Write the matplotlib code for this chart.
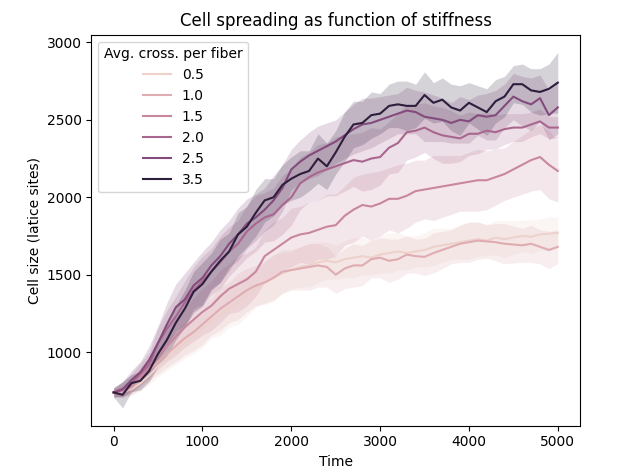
import numpy as np
import matplotlib
matplotlib.use("Agg")
import matplotlib.pyplot as plt
import seaborn as sns

# time axis (every 100 steps)
time = list(range(0, 5001, 100))

levels = [0.5, 1.0, 1.5, 2.0, 2.5, 3.5]

# mean cell size per stiffness level
size_05 = [740, 745, 760, 800, 850, 910, 960, 1010, 1060, 1100, 1150, 1200, 1240, 1280, 1320, 1360, 1410,
           1450, 1480, 1510, 1530, 1550, 1560, 1580, 1590, 1580, 1600, 1610, 1620, 1610, 1630, 1640, 1650,
           1640, 1650, 1660, 1680, 1690, 1700, 1710, 1720, 1730, 1720, 1740, 1730, 1740, 1750, 1745, 1760,
           1765, 1770]
size_10 = [740, 735, 770, 820, 880, 940, 990, 1040, 1090, 1130, 1180, 1230, 1280, 1320, 1360, 1400, 1430,
           1450, 1480, 1520, 1530, 1540, 1550, 1560, 1550, 1500, 1540, 1560, 1560, 1600, 1610, 1590, 1600,
           1630, 1620, 1615, 1640, 1660, 1680, 1700, 1710, 1720, 1715, 1710, 1700, 1695, 1690, 1700, 1680,
           1660, 1680]
size_15 = [740, 750, 780, 840, 900, 980, 1040, 1100, 1160, 1210, 1260, 1300, 1360, 1410, 1440, 1470, 1520,
           1620, 1660, 1700, 1740, 1760, 1770, 1790, 1810, 1820, 1880, 1920, 1950, 1940, 1960, 1990, 1990,
           2010, 2040, 2050, 2060, 2070, 2080, 2090, 2100, 2110, 2110, 2130, 2150, 2180, 2210, 2240, 2260,
           2210, 2170]
size_20 = [740, 760, 800, 860, 920, 1060, 1150, 1230, 1320, 1400, 1460, 1520, 1580, 1650, 1700, 1780, 1830,
           1870, 1890, 1950, 2000, 2090, 2130, 2160, 2180, 2200, 2220, 2240, 2230, 2250, 2260, 2320, 2350,
           2420, 2430, 2450, 2420, 2400, 2390, 2380, 2410, 2410, 2430, 2420, 2440, 2450, 2450, 2470, 2490,
           2450, 2450]
size_25 = [740, 760, 820, 870, 950, 1060, 1180, 1290, 1340, 1430, 1480, 1560, 1620, 1700, 1760, 1830, 1870,
           1920, 1980, 2060, 2180, 2230, 2270, 2300, 2330, 2360, 2400, 2440, 2470, 2480, 2500, 2520, 2540,
           2560, 2550, 2520, 2510, 2500, 2480, 2500, 2490, 2530, 2520, 2530, 2590, 2650, 2620, 2600, 2640,
           2530, 2580]
size_35 = [740, 725, 800, 815, 880, 990, 1080, 1190, 1280, 1390, 1440, 1520, 1590, 1650, 1760, 1810, 1900,
           1980, 2000, 2080, 2120, 2150, 2170, 2250, 2200, 2290, 2390, 2470, 2480, 2530, 2540, 2590, 2600,
           2590, 2590, 2660, 2610, 2630, 2580, 2560, 2610, 2580, 2550, 2620, 2650, 2730, 2730, 2690, 2680,
           2700, 2740]

# half width of the confidence band
band_05 = [20, 30, 40, 50, 60, 70, 80, 90, 100, 110, 120, 110, 130, 120, 140, 130, 120, 130, 140, 130, 120,
           130, 140, 130, 120, 110, 120, 130, 120, 110, 120, 130, 120, 110, 100, 110, 120, 110, 100, 110, 120,
           110, 100, 110, 120, 110, 100, 110, 100, 110, 100]
band_10 = [20, 30, 45, 55, 65, 80, 90, 100, 110, 120, 130, 120, 140, 130, 150, 140, 130, 140, 150, 140, 130,
           140, 150, 140, 130, 120, 130, 140, 130, 120, 130, 140, 130, 120, 110, 120, 130, 120, 110, 120, 130,
           120, 110, 120, 130, 120, 110, 120, 110, 120, 110]
band_15 = [25, 35, 45, 60, 70, 90, 100, 120, 130, 140, 150, 160, 170, 160, 180, 170, 160, 170, 180, 170, 190,
           180, 200, 190, 210, 200, 190, 210, 200, 220, 210, 200, 220, 210, 200, 190, 210, 200, 190, 180, 190,
           200, 190, 180, 170, 180, 190, 200, 210, 220, 200]
band_20 = [30, 45, 60, 70, 80, 100, 120, 130, 140, 150, 160, 150, 170, 160, 150, 170, 180, 160, 170, 190, 180,
           170, 160, 180, 170, 190, 180, 170, 190, 200, 180, 170, 190, 180, 170, 160, 170, 180, 170, 150, 140,
           130, 120, 110, 100, 90, 90, 80, 80, 70, 70]
band_25 = [30, 50, 60, 70, 90, 110, 140, 150, 170, 150, 170, 150, 170, 150, 170, 160, 150, 140, 160, 150, 130,
           140, 150, 160, 150, 140, 150, 160, 170, 160, 150, 140, 130, 150, 140, 160, 150, 140, 130, 150, 140,
           130, 150, 160, 140, 150, 160, 170, 150, 160, 170]
band_35 = [30, 85, 55, 60, 70, 80, 100, 110, 120, 130, 140, 120, 140, 120, 140, 130, 150, 140, 120, 130, 140,
           150, 130, 160, 150, 140, 160, 150, 140, 150, 130, 140, 150, 160, 140, 150, 130, 140, 150, 160, 130,
           140, 150, 140, 130, 120, 130, 140, 150, 160, 195]

sizes = [size_05, size_10, size_15, size_20, size_25, size_35]
bands = [band_05, band_10, band_15, band_20, band_25, band_35]

cmap = sns.cubehelix_palette(as_cmap=True)
norm = plt.Normalize(min(levels), max(levels))

fig = plt.figure(figsize=(6.18, 4.68), dpi=100)
ax = fig.add_axes([0.148, 0.0904, 0.7905, 0.8355])

t = np.array(time)
for lev, y, w in zip(levels, sizes, bands):
    y = np.array(y, dtype=float)
    w = np.array(w, dtype=float)
    c = cmap(norm(lev))
    ax.fill_between(t, y - w, y + w, color=c, alpha=0.2, linewidth=0)
    ax.plot(t, y, color=c, linewidth=1.5, label=str(lev))

ax.set_title("Cell spreading as function of stiffness")
ax.set_xlabel("Time")
ax.set_ylabel("Cell size (latice sites)")
ax.set_xticks([0, 1000, 2000, 3000, 4000, 5000])
ax.set_yticks([1000, 1500, 2000, 2500, 3000])
ax.legend(title="Avg. cross. per fiber", loc="upper left")

fig.savefig("out.png", dpi=100)
